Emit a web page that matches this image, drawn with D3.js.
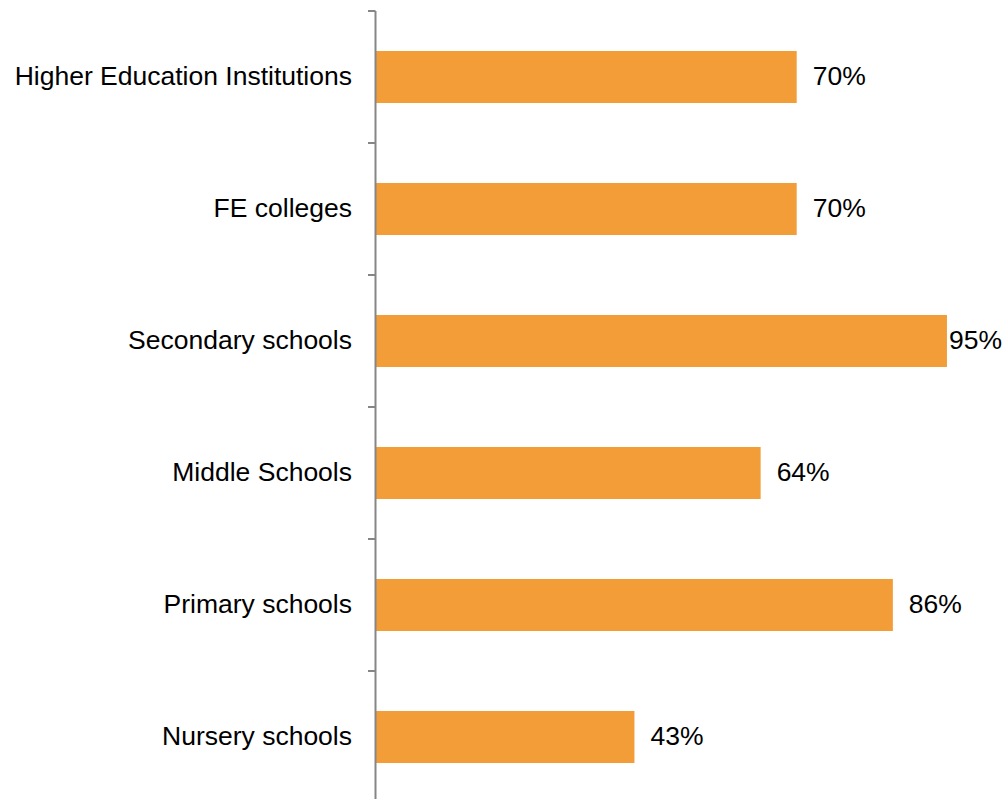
<!DOCTYPE html>
<html>
<head>
<meta charset="utf-8">
<script src="https://cdn.jsdelivr.net/npm/d3@7"></script>
<style>
  html, body { margin: 0; padding: 0; background: #fff; }
  svg { display: block; font-family: "Liberation Sans", Arial, sans-serif; }
</style>
</head>
<body>
<svg id="chart" width="1002" height="799"></svg>
<script>
// Share of institutions by type
const categories = [
  "Higher Education Institutions",
  "FE colleges",
  "Secondary schools",
  "Middle Schools",
  "Primary schools",
  "Nursery schools"
];
const values = [0.70, 0.70, 0.95, 0.64, 0.86, 0.43];

const W = 1002, H = 799;
const axisX = 376;
const plotTop = 11, plotBottom = 803;
const fontSize = 26.5;

const svg = d3.select("#chart");

const y = d3.scaleBand()
  .domain(categories)
  .range([plotTop, plotBottom])
  .paddingInner(0.606)
  .paddingOuter(0.303);

const x = d3.scaleLinear()
  .domain([0, 1])
  .range([axisX, axisX + 601]);

const barColor = "#F29D38";
const axisColor = "#868686";

// bars
svg.append("g")
  .selectAll("rect")
  .data(categories)
  .join("rect")
  .attr("x", x(0))
  .attr("y", d => y(d))
  .attr("width", (d, i) => x(values[i]) - x(0))
  .attr("height", y.bandwidth())
  .attr("fill", barColor);

// vertical category axis with tick marks between categories
const step = y.step();
const tickYs = d3.range(categories.length + 1).map(i => plotTop + i * step);
const ax = svg.append("g");
ax.append("line")
  .attr("x1", axisX - 0.5).attr("x2", axisX - 0.5)
  .attr("y1", plotTop).attr("y2", plotBottom)
  .attr("stroke", axisColor).attr("stroke-width", 2);
ax.selectAll("line.tick")
  .data(tickYs)
  .join("line")
  .attr("class", "tick")
  .attr("x1", axisX - 8).attr("x2", axisX - 0.5)
  .attr("y1", d => d).attr("y2", d => d)
  .attr("stroke", axisColor).attr("stroke-width", 2);

// category labels
svg.append("g")
  .selectAll("text")
  .data(categories)
  .join("text")
  .attr("x", axisX - 24)
  .attr("y", d => y(d) + y.bandwidth() / 2)
  .attr("dy", "0.32em")
  .attr("text-anchor", "end")
  .attr("font-size", fontSize)
  .attr("fill", "#000")
  .text(d => d);

// value labels, kept inside the drawing width
const fmt = d3.format(".0%");
svg.append("g")
  .selectAll("text")
  .data(categories)
  .join("text")
  .attr("y", d => y(d) + y.bandwidth() / 2)
  .attr("dy", "0.32em")
  .attr("font-size", fontSize)
  .attr("fill", "#000")
  .text((d, i) => fmt(values[i]))
  .attr("x", function (d, i) {
    const w = this.getComputedTextLength();
    return Math.min(x(values[i]) + 16, W - w);
  });
</script>
</body>
</html>
